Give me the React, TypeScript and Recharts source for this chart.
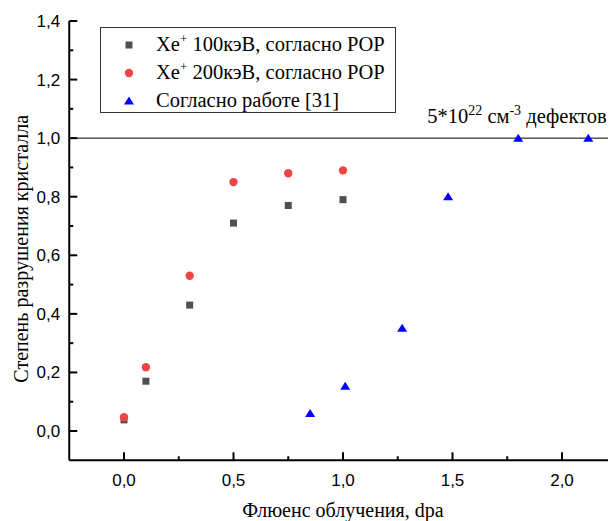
import React from "react";
import {
  ScatterChart,
  Scatter,
  XAxis,
  YAxis,
  ReferenceLine,
} from "recharts";

const fluence100 = [0, 0.1, 0.3, 0.5, 0.75, 1.0];
const damage100 = [0.038, 0.17, 0.43, 0.71, 0.77, 0.79];

const fluence200 = [0, 0.1, 0.3, 0.5, 0.75, 1.0];
const damage200 = [0.047, 0.218, 0.53, 0.85, 0.88, 0.89];

const fluenceRef = [0.85, 1.01, 1.27, 1.48, 1.8, 2.12];
const damageRef = [0.06, 0.153, 0.351, 0.8, 1.0, 1.0];

const thresholdLevel = 1.0;
const thresholdSpan = [-0.25, 2.21];

const xTicks = [0, 0.25, 0.5, 0.75, 1.0, 1.25, 1.5, 1.75, 2.0];
const xMajor = [0, 0.5, 1.0, 1.5, 2.0];
const yTicks = [0, 0.1, 0.2, 0.3, 0.4, 0.5, 0.6, 0.7, 0.8, 0.9, 1.0, 1.1, 1.2, 1.3, 1.4];
const yMajor = [0, 0.2, 0.4, 0.6, 0.8, 1.0, 1.2, 1.4];

const seriesNames = [
  { base: "Xe", sup: "+", rest: " 100кэВ, согласно POP" },
  { base: "Xe", sup: "+", rest: " 200кэВ, согласно POP" },
  { base: "Согласно работе [31]", sup: "", rest: "" },
];

const COLOR_SQ = "#4f4f4f";
const COLOR_CI = "#f04343";
const COLOR_TR = "#0000ff";

const zip = (xs: number[], ys: number[]) => xs.map((x, i) => ({ x, y: ys[i] }));
const data100 = zip(fluence100, damage100);
const data200 = zip(fluence200, damage200);
const dataRef = zip(fluenceRef, damageRef);

const fmt = (v: number) => v.toFixed(1).replace(".", ",");
const isMajor = (list: number[], v: number) => list.some((m) => Math.abs(m - v) < 1e-6);

const SquareShape = (props: any) => {
  const { cx, cy } = props;
  return <rect x={cx - 3.5} y={cy - 3.5} width={7} height={7} fill={COLOR_SQ} />;
};
const CircleShape = (props: any) => {
  const { cx, cy } = props;
  return <circle cx={cx} cy={cy} r={4.2} fill={COLOR_CI} />;
};
const TriangleShape = (props: any) => {
  const { cx, cy } = props;
  return (
    <polygon
      points={`${cx},${cy - 4.5} ${cx + 5},${cy + 3.5} ${cx - 5},${cy + 3.5}`}
      fill={COLOR_TR}
    />
  );
};

const XTick = (props: any) => {
  const { x, y, payload } = props;
  const major = isMajor(xMajor, payload.value);
  return (
    <g>
      <line x1={x} y1={y} x2={x} y2={y - (major ? 8 : 4)} stroke="#000" strokeWidth={2} />
      {major && (
        <text
          x={x}
          y={y + 26}
          textAnchor="middle"
          fontFamily="'Liberation Sans', Arial, sans-serif"
          fontSize={17}
          fill="#000"
        >
          {fmt(payload.value)}
        </text>
      )}
    </g>
  );
};

const YTick = (props: any) => {
  const { x, y, payload } = props;
  const major = isMajor(yMajor, payload.value);
  return (
    <g>
      <line x1={x} y1={y} x2={x + (major ? 8 : 4)} y2={y} stroke="#000" strokeWidth={2} />
      {major && (
        <text
          x={x - 9}
          y={y + 6}
          textAnchor="end"
          fontFamily="'Liberation Sans', Arial, sans-serif"
          fontSize={17}
          fill="#000"
        >
          {fmt(payload.value)}
        </text>
      )}
    </g>
  );
};

const LegendMarker = ({ i }: { i: number }) => (
  <svg width={12} height={12} style={{ position: "absolute", left: 22, top: -6 }}>
    {i === 0 && <rect x={2.5} y={2.5} width={7} height={7} fill={COLOR_SQ} />}
    {i === 1 && <circle cx={6} cy={6} r={4.2} fill={COLOR_CI} />}
    {i === 2 && <polygon points="6,1.5 11,9.5 1,9.5" fill={COLOR_TR} />}
  </svg>
);

const LegendBox = () => (
  <div
    style={{
      position: "absolute",
      left: 92,
      top: 19,
      width: 296,
      height: 86,
      border: "1px solid #333",
      boxSizing: "border-box",
      background: "#fff",
      fontFamily: "'Liberation Serif', 'Times New Roman', serif",
      fontSize: 20.5,
      color: "#000",
    }}
  >
    {seriesNames.map((s, i) => (
      <div key={i} style={{ position: "absolute", left: 0, top: 17 + i * 28, width: "100%" }}>
        <LegendMarker i={i} />
        <div
          style={{
            position: "absolute",
            left: 55,
            top: -13,
            whiteSpace: "nowrap",
            lineHeight: "24px",
          }}
        >
          {s.base}
          {s.sup && (
            <sup style={{ fontSize: 13, verticalAlign: "top", position: "relative", top: -5 }}>
              {s.sup}
            </sup>
          )}
          {s.rest}
        </div>
      </div>
    ))}
  </div>
);

const RefLabel = (props: any) => {
  const { viewBox } = props;
  const xl = viewBox.x + 358;
  const yb = viewBox.y - 15;
  return (
    <text
      x={xl}
      y={yb}
      textAnchor="start"
      fontFamily="'Liberation Serif', 'Times New Roman', serif"
      fontSize={20.5}
      fill="#000"
    >
      <tspan>5*10</tspan>
      <tspan fontSize={14} dy={-8}>22</tspan>
      <tspan dy={8}> см</tspan>
      <tspan fontSize={14} dy={-8}>-3</tspan>
      <tspan dy={8}> дефектов</tspan>
    </text>
  );
};

export default function App() {
  return (
    <div style={{ width: 608, height: 513, overflow: "hidden", position: "relative" }}>
      <ScatterChart
        width={620}
        height={513}
        margin={{ top: 13, right: 11.25, bottom: 0, left: 5.25 }}
      >
        <XAxis
          type="number"
          dataKey="x"
          domain={[-0.25, 2.25]}
          ticks={xTicks}
          allowDataOverflow
          interval={0}
          tickSize={0}
          tickMargin={0}
          tickLine={false}
          tick={<XTick />}
          axisLine={{ stroke: "#000", strokeWidth: 2 }}
          height={60.7}
          label={{
            value: "Флюенс облучения, dpa",
            position: "insideBottom",
            offset: 4,
            style: {
              fontFamily: "'Liberation Serif', 'Times New Roman', serif",
              fontSize: 20,
              fill: "#000",
            },
          }}
        />
        <YAxis
          type="number"
          dataKey="y"
          domain={[-0.1, 1.4]}
          ticks={yTicks}
          allowDataOverflow
          interval={0}
          tickSize={0}
          tickMargin={0}
          tickLine={false}
          tick={<YTick />}
          axisLine={{ stroke: "#000", strokeWidth: 2 }}
          width={56}
          label={{
            value: "Степень разрушения кристалла",
            angle: -90,
            position: "insideLeft",
            offset: 0,
            dx: 8,
            dy: 142,
            style: {
              fontFamily: "'Liberation Serif', 'Times New Roman', serif",
              fontSize: 20,
              fill: "#000",
              textAnchor: "start",
            },
          }}
        />
        <ReferenceLine
          segment={[
            { x: thresholdSpan[0], y: thresholdLevel },
            { x: thresholdSpan[1], y: thresholdLevel },
          ]}
          stroke="#000"
          strokeWidth={1}
          label={<RefLabel />}
        />
        <Scatter name="100" data={data100} shape={<SquareShape />} isAnimationActive={false} />
        <Scatter name="200" data={data200} shape={<CircleShape />} isAnimationActive={false} />
        <Scatter name="ref" data={dataRef} shape={<TriangleShape />} isAnimationActive={false} />
      </ScatterChart>
      <LegendBox />
    </div>
  );
}
